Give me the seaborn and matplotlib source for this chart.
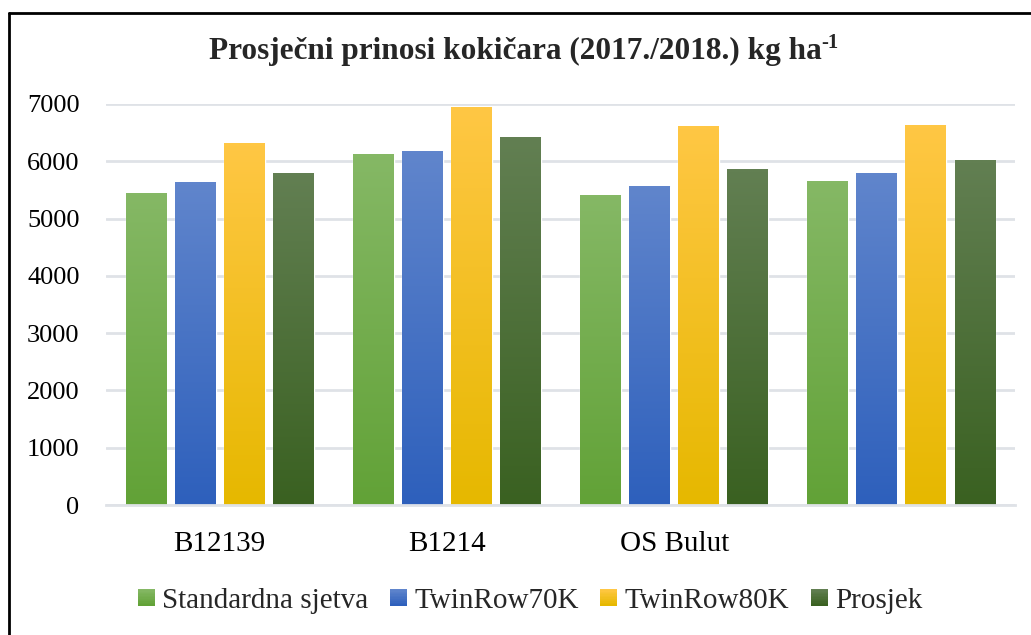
import numpy as np
import pandas as pd
import matplotlib
matplotlib.use("Agg")
import matplotlib.pyplot as plt
import seaborn as sns
from matplotlib.patches import Rectangle
from matplotlib.legend_handler import HandlerBase
from matplotlib.colors import to_rgb

# ---- data ----
categories = ["B12139", "B1214", "OS Bulut", ""]
series = ["Standardna sjetva", "TwinRow70K", "TwinRow80K", "Prosjek"]
standardna = [5445, 6126, 5410, 5654]
twinrow70 = [5637, 6178, 5567, 5794]
twinrow80 = [6318, 6946, 6614, 6632]
prosjek = [5794, 6422, 5864, 6021]
yticks = [0, 1000, 2000, 3000, 4000, 5000, 6000, 7000]

grad_top = ["#85b865", "#6085cc", "#ffc744", "#627f52"]
grad_bot = ["#62a237", "#2e60bc", "#e6b800", "#3a6121"]

rows = []
for s, vals in zip(series, [standardna, twinrow70, twinrow80, prosjek]):
    for c, v in zip(categories, vals):
        rows.append({"cat": c if c else " ", "series": s, "value": v})
df = pd.DataFrame(rows)

sns.set_theme(style="white")
plt.rcParams["font.family"] = ["Liberation Serif", "DejaVu Serif"]

fig = plt.figure(figsize=(10.31, 6.35), dpi=100)
ax = fig.add_axes([106 / 1031, 1 - 505 / 635, (1015 - 106) / 1031, (505 - 104) / 635])

mids = []
for t, b in zip(grad_top, grad_bot):
    mids.append(tuple((np.array(to_rgb(t)) + np.array(to_rgb(b))) / 2))

sns.barplot(data=df, x="cat", y="value", hue="series", palette=mids,
            width=0.864, gap=0.167, ax=ax, legend=False, saturation=1,
            errorbar=None, zorder=3)

ax.set_ylim(0, 7000)
ax.set_xlim(-0.5, 3.5)

# gradient fill
for i, cont in enumerate(ax.containers):
    top = np.array(to_rgb(grad_top[i]))
    bot = np.array(to_rgb(grad_bot[i]))
    for p in cont.patches:
        x0, y0 = p.get_x(), p.get_y()
        w, h = p.get_width(), p.get_height()
        n = 64
        tt = np.linspace(0, 1, n)[:, None]
        img = (top[None, :] * (1 - tt) + bot[None, :] * tt)[:, None, :]
        ax.imshow(img, extent=[x0, x0 + w, y0, y0 + h], aspect="auto",
                  zorder=3.5, interpolation="bilinear", origin="upper")
ax.set_xlim(-0.5, 3.5)
ax.set_ylim(0, 7000)

ax.set_yticks(yticks)
ax.set_yticklabels([str(v) for v in yticks])
ax.yaxis.grid(True, color="#dfe2e7", linewidth=2, zorder=0)
ax.set_axisbelow(True)
for sp in ["top", "right", "left"]:
    ax.spines[sp].set_visible(False)
ax.spines["bottom"].set_color("#dfe2e7")
ax.spines["bottom"].set_linewidth(2)
ax.spines["bottom"].set_zorder(5)
ax.tick_params(axis="y", length=0, pad=19, labelsize=19, labelcolor="black")
ax.tick_params(axis="x", length=0, pad=19, labelsize=21, labelcolor="black")
ax.set_xticks(range(len(categories)))
ax.set_xticklabels(categories)
ax.set_xlabel("")
ax.set_ylabel("")


# legend with gradient squares
class GradHandler(HandlerBase):
    def __init__(self, top, bot):
        super().__init__()
        self.top = np.array(to_rgb(top))
        self.bot = np.array(to_rgb(bot))

    def create_artists(self, legend, orig_handle, xdescent, ydescent,
                       width, height, fontsize, trans):
        arts = []
        n = 12
        size = height * 1.0
        x0 = -xdescent + width - size
        y0 = -ydescent
        for k in range(n):
            t = k / (n - 1)
            col = self.top * (1 - t) + self.bot * t
            r = Rectangle((x0, y0 + size * (1 - (k + 1) / n)), size, size / n + 0.3,
                          facecolor=col, edgecolor="none", transform=trans)
            arts.append(r)
        return arts


handles = [Rectangle((0, 0), 1, 1) for _ in series]
hmap = {h: GradHandler(t, b) for h, t, b in zip(handles, grad_top, grad_bot)}
fig.legend(handles, series, handler_map=hmap, loc="center",
           bbox_to_anchor=(531 / 1031, 1 - 601 / 635), ncol=4, frameon=False,
           fontsize=21, handlelength=0.52, handleheight=0.52, handletextpad=0.25,
           columnspacing=0.8)

# frame (top & left)
fig.add_artist(plt.Line2D([9 / 1031, 1.0], [1 - 13 / 635, 1 - 13 / 635],
                          transform=fig.transFigure, color="black", linewidth=2))
fig.add_artist(plt.Line2D([9 / 1031, 9 / 1031], [1 - 13 / 635, 0],
                          transform=fig.transFigure, color="black", linewidth=2))

# title with superscript
title_main = "Prosječni prinosi kokičara (2017./2018.) kg ha"
sup = "-1"
fig.canvas.draw()
r = fig.canvas.get_renderer()
t1 = fig.text(0, 1 - 51 / 635, title_main, fontsize=22.5, fontweight="bold",
              ha="left", va="center")
t2 = fig.text(0, 1 - 51 / 635, sup, fontsize=15, fontweight="bold",
              ha="left", va="center")
w1 = t1.get_window_extent(r).width
w2 = t2.get_window_extent(r).width
total = w1 + w2
cx = 524
x_start = cx - total / 2
t1.set_x(x_start / 1031)
t2.set_x((x_start + w1) / 1031)
t2.set_y(1 - 43 / 635)

fig.savefig("out.png", dpi=100)
